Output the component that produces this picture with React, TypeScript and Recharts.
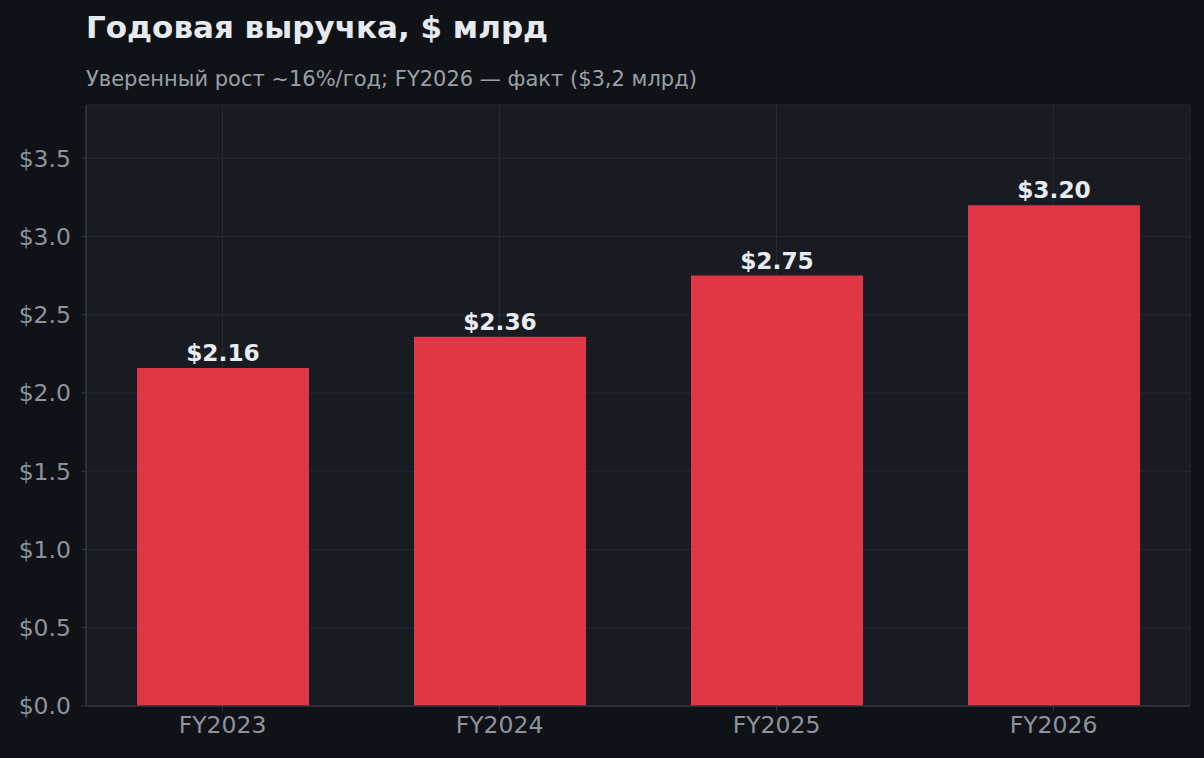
import React from "react";
import {
  BarChart,
  Bar,
  XAxis,
  YAxis,
  CartesianGrid,
  LabelList,
} from "recharts";

// Chart data
const years = ["FY2023", "FY2024", "FY2025", "FY2026"];
const revenue = [2.16, 2.36, 2.75, 3.2];
const yTicks = [0, 0.5, 1.0, 1.5, 2.0, 2.5, 3.0, 3.5];

const title = "Годовая выручка, $ млрд";
const subtitle = "Уверенный рост ~16%/год; FY2026 — факт ($3,2 млрд)";

const FONT = "'DejaVu Sans', sans-serif";
const BG = "#0f1317";
const PLOT_BG = "#181b22";
const GRID = "#252932";
const SPINE = "#30353e";
const TICK = "#8d939c";
const BAR = "#e03746";

export default function App() {
  const data = years.map((year, i) => ({ year, revenue: revenue[i] }));

  return (
    <div
      style={{
        position: "fixed",
        left: 0,
        top: 0,
        width: 1204,
        height: 758,
        background: BG,
        fontFamily: FONT,
        overflow: "hidden",
      }}
    >
      <div
        style={{
          position: "absolute",
          left: 86,
          top: 9,
          fontSize: 31,
          fontWeight: "bold",
          color: "#e6e9ee",
          lineHeight: "36px",
          whiteSpace: "nowrap",
        }}
      >
        {title}
      </div>
      <div
        style={{
          position: "absolute",
          left: 86,
          top: 66,
          fontSize: 21,
          color: "#9aa0a8",
          lineHeight: "26px",
          whiteSpace: "nowrap",
        }}
      >
        {subtitle}
      </div>
      <div style={{ position: "absolute", left: 0, top: 0 }}>
        <BarChart
          width={1204}
          height={758}
          data={data}
          margin={{ top: 105, right: 14, left: 0, bottom: 0 }}
        >
          <CartesianGrid stroke={GRID} fill={PLOT_BG} />
          <XAxis
            dataKey="year"
            height={52}
            padding={{ left: -2, right: -2 }}
            tick={{ fill: TICK, fontSize: 23.5, fontFamily: FONT }}
            tickLine={{ stroke: SPINE }}
            axisLine={{ stroke: SPINE, strokeWidth: 1.5 }}
            tickSize={5}
            tickMargin={5}
          />
          <YAxis
            width={86}
            domain={[0, 3.84]}
            ticks={yTicks}
            allowDataOverflow
            tickFormatter={(v: number) => `$${v.toFixed(1)}`}
            tick={{ fill: TICK, fontSize: 23.5, fontFamily: FONT }}
            tickLine={{ stroke: SPINE }}
            axisLine={{ stroke: SPINE, strokeWidth: 1.5 }}
            tickSize={5}
            tickMargin={10}
          />
          <Bar
            dataKey="revenue"
            fill={BAR}
            barSize={172}
            isAnimationActive={false}
          >
            <LabelList
              dataKey="revenue"
              position="top"
              offset={7}
              formatter={(v: number) => `$${v.toFixed(2)}`}
              fill="#e8ebf0"
              fontSize={23.3}
              fontWeight="bold"
              fontFamily={FONT}
            />
          </Bar>
        </BarChart>
      </div>
    </div>
  );
}
